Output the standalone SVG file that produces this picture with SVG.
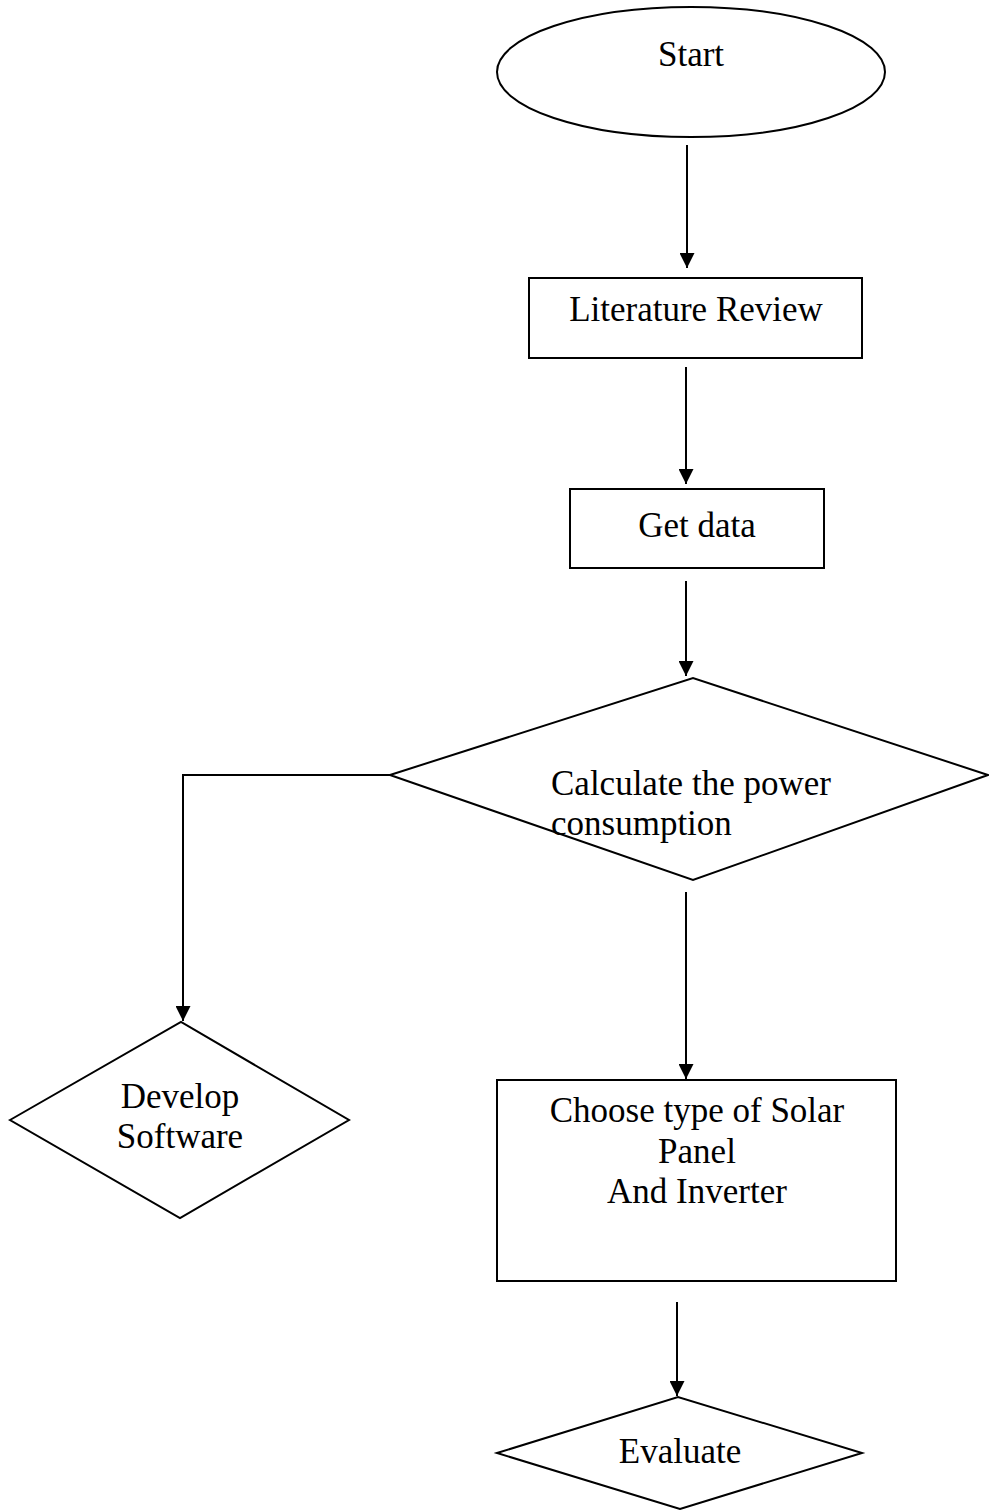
<svg xmlns="http://www.w3.org/2000/svg" width="989" height="1510" viewBox="0 0 989 1510">
<style>
.s{fill:#fff;stroke:#000;stroke-width:2}
.t{font-family:"Liberation Serif","Times New Roman",serif;font-size:35px;fill:#000}
.c{fill:none;stroke:#000;stroke-width:2}
</style>
<defs>
<marker id="ah" viewBox="0 0 10 10" refX="10" refY="5" markerWidth="15" markerHeight="15" markerUnits="userSpaceOnUse" orient="auto">
<path d="M0,0 L10,5 L0,10 z" fill="#000"/>
</marker>
</defs>
<rect width="989" height="1510" fill="#fff"/>
<g id="start">
<ellipse class="s" cx="691" cy="72" rx="194" ry="65"/>
<text class="t" x="691" y="66" text-anchor="middle">Start</text>
</g>
<g id="literature">
<rect class="s" x="529" y="278" width="333" height="80"/>
<text class="t" x="696" y="321" text-anchor="middle">Literature Review</text>
</g>
<g id="getdata">
<rect class="s" x="570" y="489" width="254" height="79"/>
<text class="t" x="697" y="537" text-anchor="middle">Get data</text>
</g>
<g id="calculate">
<polygon class="s" points="390,775 693,678 988,775 693,880"/>
<text class="t" x="551" y="795">Calculate the power</text>
<text class="t" x="551" y="835">consumption</text>
</g>
<g id="develop">
<polygon class="s" points="10,1120 181,1022 349,1120 180,1218"/>
<text class="t" x="180" y="1108" text-anchor="middle">Develop</text>
<text class="t" x="180" y="1148" text-anchor="middle">Software</text>
</g>
<g id="choose">
<rect class="s" x="497" y="1080" width="399" height="201"/>
<text class="t" x="697" y="1122" text-anchor="middle">Choose type of Solar</text>
<text class="t" x="697" y="1163" text-anchor="middle">Panel</text>
<text class="t" x="697" y="1203" text-anchor="middle">And Inverter</text>
</g>
<g id="evaluate">
<polygon class="s" points="497,1453 678,1397 862,1453 680,1509"/>
<text class="t" x="680" y="1463" text-anchor="middle">Evaluate</text>
</g>
<g id="connectors">
<line class="c" x1="687" y1="145" x2="687" y2="268" marker-end="url(#ah)"/>
<line class="c" x1="686" y1="367" x2="686" y2="484" marker-end="url(#ah)"/>
<line class="c" x1="686" y1="581" x2="686" y2="676" marker-end="url(#ah)"/>
<polyline class="c" points="390,775 183,775 183,1021" marker-end="url(#ah)"/>
<line class="c" x1="686" y1="892" x2="686" y2="1079" marker-end="url(#ah)"/>
<line class="c" x1="677" y1="1302" x2="677" y2="1396" marker-end="url(#ah)"/>
</g>
</svg>
